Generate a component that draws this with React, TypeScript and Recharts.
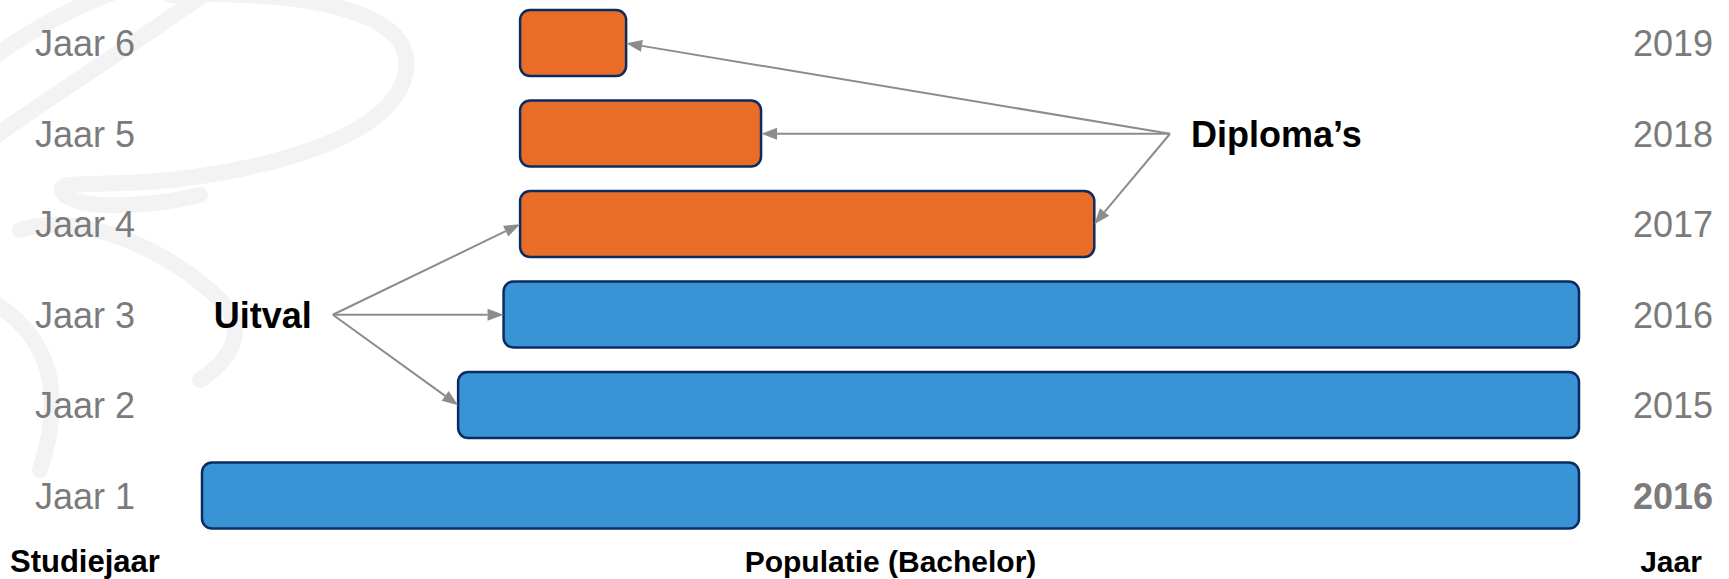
import { BarChart, Bar, XAxis, YAxis, Cell, ReferenceLine, ReferenceDot } from 'recharts';

document.body.style.margin = '0';

// rows, top to bottom
const studiejaren = ['Jaar 6', 'Jaar 5', 'Jaar 4', 'Jaar 3', 'Jaar 2', 'Jaar 1'];
const jaren = ['2019', '2018', '2017', '2016', '2015', '2016'];
// population (share of the cohort)
const beginWaarden = [23.1, 23.1, 23.1, 21.9, 18.6, 0];
const eindWaarden = [30.8, 40.6, 64.8, 100, 100, 100];
const soorten = ['diploma', 'diploma', 'diploma', 'populatie', 'populatie', 'populatie'];

// annotations
const uitvalBron = { x: 9.5, rij: 'Jaar 3' };
const uitvalDoelen = ['Jaar 4', 'Jaar 3', 'Jaar 2'];
const diplomaBron = { x: 70.3, rij: 'Jaar 5' };
const diplomaDoelen = ['Jaar 6', 'Jaar 5', 'Jaar 4'];

const data = studiejaren.map((s, i) => ({
  studiejaar: s,
  bereik: [beginWaarden[i], eindWaarden[i]],
  soort: soorten[i],
}));

const FONT = '"Liberation Sans", Arial, sans-serif';
const GRIJS = '#7b7b7b';
const PIJL = '#8c8c8c';

function Pijl(props: any) {
  const { x1, y1, x2, y2 } = props;
  const dx = x2 - x1;
  const dy = y2 - y1;
  const len = Math.hypot(dx, dy) || 1;
  const ux = dx / len;
  const uy = dy / len;
  const head = 16;
  const half = 6;
  const bx = x2 - ux * head;
  const by = y2 - uy * head;
  const px = -uy * half;
  const py = ux * half;
  return (
    <g>
      <line x1={x1} y1={y1} x2={bx} y2={by} stroke={PIJL} strokeWidth={2} />
      <polygon points={`${x2},${y2} ${bx + px},${by + py} ${bx - px},${by - py}`} fill={PIJL} />
    </g>
  );
}

const idx = (rij: string) => studiejaren.indexOf(rij);

export default function App() {
  return (
    <div style={{ position: 'relative', width: 1729, height: 579, overflow: 'hidden', background: '#fff' }}>
      <svg width={1729} height={579} style={{ position: 'absolute', left: 0, top: 0 }}>
        <g fill="none" stroke="#f3f3f3" strokeWidth={16} strokeLinecap="round">
          <path d="M -10 60 Q 50 15 120 -10" />
          <path d="M -10 140 C 60 90 140 40 210 -10" />
          <path d="M 170 -5 C 320 -10 420 15 405 75 C 390 140 260 170 170 180 C 90 188 50 178 65 195 C 85 212 160 205 200 195" />
          <path d="M 20 230 C 80 210 170 250 220 300 C 250 330 230 360 200 380" />
          <path d="M -10 300 C 40 330 70 380 40 470" />
        </g>
      </svg>
      <div style={{ position: 'absolute', left: 0, top: -12 }}>
        <BarChart
          width={1729}
          height={600}
          layout="vertical"
          data={data}
          margin={{ top: 10, right: 0, left: 0, bottom: 0 }}
          barCategoryGap={0}
        >
          <XAxis
            type="number"
            domain={[0, 100]}
            tick={false}
            axisLine={false}
            tickLine={false}
            height={47}
            label={{
              content: (p: any) => {
                const vb = p.viewBox;
                return (
                  <text x={vb.x + vb.width / 2} y={vb.y + 31} textAnchor="middle" fontFamily={FONT} fontSize={30} fontWeight="bold" fill="#000">
                    Populatie (Bachelor)
                  </text>
                );
              },
            }}
          />
          <YAxis
            type="category"
            dataKey="studiejaar"
            width={202}
            axisLine={false}
            tickLine={false}
            tick={(p: any) => (
              <text x={35} y={p.y} dy="0.355em" textAnchor="start" fontFamily={FONT} fontSize={36} fill={GRIJS}>
                {p.payload.value}
              </text>
            )}
            label={{
              content: (p: any) => {
                const vb = p.viewBox;
                return (
                  <text x={10} y={vb.y + vb.height + 31} textAnchor="start" fontFamily={FONT} fontSize={31} fontWeight="bold" fill="#000">
                    Studiejaar
                  </text>
                );
              },
            }}
          />
          <YAxis
            yAxisId="jaar"
            orientation="right"
            type="category"
            dataKey="studiejaar"
            width={150}
            axisLine={false}
            tickLine={false}
            tick={(p: any) => {
              const i = idx(p.payload.value);
              return (
                <text x={1713} y={p.y} dy="0.355em" textAnchor="end" fontFamily={FONT} fontSize={36} fontWeight={i === studiejaren.length - 1 ? 'bold' : 'normal'} fill={GRIJS}>
                  {jaren[i]}
                </text>
              );
            }}
            label={{
              content: (p: any) => {
                const vb = p.viewBox;
                return (
                  <text x={1671} y={vb.y + vb.height + 31} textAnchor="middle" fontFamily={FONT} fontSize={30} fontWeight="bold" fill="#000">
                    Jaar
                  </text>
                );
              },
            }}
          />
          <Bar dataKey="bereik" barSize={66} radius={10} stroke="#0b2c63" strokeWidth={2.5} isAnimationActive={false}>
            {data.map((d, i) => (
              <Cell key={`c-${i}`} fill={d.soort === 'diploma' ? '#e96d27' : '#3a93d5'} />
            ))}
          </Bar>
          {uitvalDoelen.map((rij) => (
            <ReferenceLine
              key={`u-${rij}`}
              segment={[
                { x: uitvalBron.x, y: uitvalBron.rij },
                { x: beginWaarden[idx(rij)], y: rij },
              ]}
              shape={Pijl}
            />
          ))}
          {diplomaDoelen.map((rij) => (
            <ReferenceLine
              key={`d-${rij}`}
              segment={[
                { x: diplomaBron.x, y: diplomaBron.rij },
                { x: eindWaarden[idx(rij)], y: rij },
              ]}
              shape={Pijl}
            />
          ))}
          <ReferenceDot
            x={uitvalBron.x}
            y={uitvalBron.rij}
            r={0}
            shape={(p: any) => (
              <text x={p.cx - 21} y={p.cy} dy="0.355em" textAnchor="end" fontFamily={FONT} fontSize={36} fontWeight="bold" fill="#000">
                Uitval
              </text>
            )}
          />
          <ReferenceDot
            x={diplomaBron.x}
            y={diplomaBron.rij}
            r={0}
            shape={(p: any) => (
              <text x={p.cx + 21} y={p.cy} dy="0.355em" textAnchor="start" fontFamily={FONT} fontSize={36} fontWeight="bold" fill="#000">
                Diploma’s
              </text>
            )}
          />
        </BarChart>
      </div>
    </div>
  );
}
